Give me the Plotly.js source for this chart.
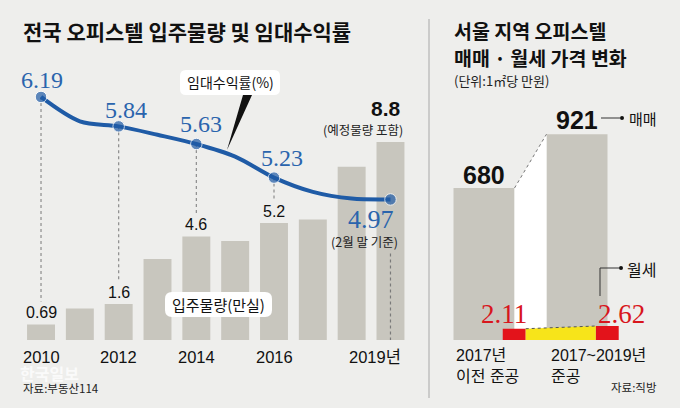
<!DOCTYPE html>
<html><head><meta charset="utf-8">
<script src="https://cdn.plot.ly/plotly-3.0.1.min.js"></script>
<style>html,body{margin:0;padding:0;background:#eeeeec;}</style>
</head><body>
<div id="chart" style="width:680px;height:408px"></div>
<script>
// ---------- data ----------
const years = [2010, 2011, 2012, 2013, 2014, 2015, 2016, 2017, 2018, 2019];
const supply = [0.69, 1.4, 1.6, 3.6, 4.6, 4.4, 5.2, 5.35, 7.7, 8.8];          // 입주물량(만실)
const yieldRate = [6.19, 5.90, 5.84, 5.74, 5.63, 5.48, 5.23, 5.06, 4.98, 4.97]; // 임대수익률(%)
const supplyLabelYears = [2010, 2012, 2014, 2016];
const supplyLabels = ['0.69', '1.6', '4.6', '5.2'];
const rateLabelYears = [2010, 2012, 2014, 2016];
const rateLabels = ['6.19', '5.84', '5.63', '5.23'];
const tickYears = [2010, 2012, 2014, 2016, 2019];
const tickTexts = ['2010', '2012', '2014', '2016', '2019년'];
const seoulCats = ['2017년<br>이전 준공', '2017~2019년<br>준공'];
const salePrice = [680, 921];     // 매매
const monthlyRent = [2.11, 2.62]; // 월세

// ---------- geometry helpers ----------
const W = 680, H = 408;
const PX = x => x / W, PY = y => 1 - y / H;
const plotH = 280;               // pixel height of the plot domain (y 60..340)
const Y1MAX = 12.444;
const Y2R = [3.297, 6.630];
const Y3MAX = 1253, Y4MAX = 52.4;
const y2PerPx = (Y2R[1] - Y2R[0]) / plotH;
const barToY2 = v => Y2R[0] + v / Y1MAX * (Y2R[1] - Y2R[0]);

const KR = '"Noto Sans CJK KR", sans-serif';
const SANS = '"Liberation Sans", "Noto Sans CJK KR", sans-serif';
const SERIF = '"Liberation Serif", "DejaVu Serif", serif';
const BLUE = '#1f5ba6', RED = '#d8161d', BAR = '#c8c6be';

function roundRect(x0, y0, x1, y1, r) {
  const p = (x, y) => PX(x) + ',' + PY(y);
  return 'M' + p(x0 + r, y0) + ' L' + p(x1 - r, y0) + ' Q' + p(x1, y0) + ' ' + p(x1, y0 + r) +
    ' L' + p(x1, y1 - r) + ' Q' + p(x1, y1) + ' ' + p(x1 - r, y1) +
    ' L' + p(x0 + r, y1) + ' Q' + p(x0, y1) + ' ' + p(x0, y1 - r) +
    ' L' + p(x0, y0 + r) + ' Q' + p(x0, y0) + ' ' + p(x0 + r, y0) + ' Z';
}

// ---------- traces ----------
const markerSizes = years.map(y => (rateLabelYears.includes(y) || y === 2019) ? 11.5 : 0);
const bw = 0.656;  // right bar width
const rw = 0.247, roff = 0.325; // red bar width / offset

const traces = [
  { type: 'bar', x: years, y: supply, width: 0.72, marker: { color: BAR }, xaxis: 'x', yaxis: 'y', hoverinfo: 'none' },
  { type: 'scatter', mode: 'lines+markers', x: years, y: yieldRate, xaxis: 'x', yaxis: 'y2',
    line: { color: BLUE, width: 4, shape: 'spline', smoothing: 0.9 },
    marker: { color: BLUE, size: markerSizes }, hoverinfo: 'none' },
  // right panel
  { type: 'scatter', mode: 'none', xaxis: 'x3', yaxis: 'y3', fill: 'toself', fillcolor: '#ffffff',
    x: [bw / 2, 1 - bw / 2, 1 - bw / 2, bw / 2], y: [salePrice[0], salePrice[1], 0, 0], hoverinfo: 'none' },
  { type: 'scatter', mode: 'lines', xaxis: 'x3', yaxis: 'y3',
    x: [bw / 2, 1 - bw / 2], y: salePrice, line: { color: '#777', width: 1, dash: 'dot' }, hoverinfo: 'none' },
  { type: 'bar', x: [0, 1], y: salePrice, width: bw, offset: -bw / 2, marker: { color: BAR }, xaxis: 'x3', yaxis: 'y3', hoverinfo: 'none' },
  { type: 'scatter', mode: 'none', xaxis: 'x3', yaxis: 'y4', fill: 'toself', fillcolor: '#f7e41a',
    x: [roff + rw / 2, 1 + roff - rw / 2, 1 + roff - rw / 2, roff + rw / 2],
    y: [monthlyRent[0], monthlyRent[1], 0, 0], hoverinfo: 'none' },
  { type: 'scatter', mode: 'lines', xaxis: 'x3', yaxis: 'y4',
    x: [roff + rw / 2, 1 + roff - rw / 2], y: monthlyRent, line: { color: '#555', width: 1, dash: 'dot' }, hoverinfo: 'none' },
  { type: 'bar', x: [roff, 1 + roff], y: monthlyRent, width: rw, offset: -rw / 2, marker: { color: '#e3131b' }, xaxis: 'x3', yaxis: 'y4', hoverinfo: 'none' }
];

// ---------- annotations ----------
const ann = [];
const A = o => ann.push(Object.assign({ showarrow: false, xanchor: 'center' }, o));

// titles
A({ xref: 'paper', yref: 'paper', x: PX(21), y: PY(31), xanchor: 'left', yanchor: 'middle',
    text: '<b>전국 오피스텔 입주물량 및 임대수익률</b>', font: { family: KR, size: 21, color: '#111' } });
A({ xref: 'paper', yref: 'paper', x: PX(452), y: PY(31), xanchor: 'left', yanchor: 'middle',
    text: '<b>서울 지역 오피스텔</b>', font: { family: KR, size: 19.5, color: '#111' } });
A({ xref: 'paper', yref: 'paper', x: PX(452), y: PY(58), xanchor: 'left', yanchor: 'middle',
    text: '<b>매매 · 월세 가격 변화</b>', font: { family: KR, size: 19.5, color: '#111' } });
A({ xref: 'paper', yref: 'paper', x: PX(452), y: PY(81), xanchor: 'left', yanchor: 'middle',
    text: '(단위:1㎡당 만원)', font: { family: KR, size: 13, color: '#222' } });

// supply labels
supplyLabelYears.forEach((yr, i) => {
  A({ xref: 'x', yref: 'y', x: yr, y: supply[years.indexOf(yr)], yanchor: 'middle', yshift: 12,
      text: supplyLabels[i], font: { family: SANS, size: 16, color: '#111' } });
});
A({ xref: 'x', yref: 'y', x: 2019, y: supply[9], yanchor: 'middle', yshift: 33, xshift: -4,
    text: '<b>8.8</b>', font: { family: SANS, size: 21, color: '#111' } });
A({ xref: 'x', yref: 'y', x: 2019, y: supply[9], yanchor: 'middle', yshift: 12, xshift: -27,
    text: '(예정물량 포함)', font: { family: KR, size: 12.5, color: '#222' } });

// rate labels
const rateShiftX = [1, 7, 5, 8];
const rateShiftY = [17, 16, 20, 20];
rateLabelYears.forEach((yr, i) => {
  A({ xref: 'x', yref: 'y2', x: yr, y: yieldRate[years.indexOf(yr)], yanchor: 'middle',
      xshift: rateShiftX[i], yshift: rateShiftY[i],
      text: rateLabels[i], font: { family: SERIF, size: 24, color: '#2a64ad' } });
});
A({ xref: 'x', yref: 'y2', x: 2019, y: yieldRate[9], yanchor: 'middle', xshift: -19, yshift: -20,
    text: '4.97', font: { family: SERIF, size: 26, color: '#2a64ad' } });
A({ xref: 'x', yref: 'y2', x: 2019, y: yieldRate[9], yanchor: 'middle', xshift: -26, yshift: -42,
    text: '(2월 말 기준)', font: { family: KR, size: 12.5, color: '#222' } });

// x tick labels (left)
tickYears.forEach((yr, i) => {
  const last = i === tickYears.length - 1;
  A({ xref: 'x', yref: 'paper', x: yr, y: PY(357), yanchor: 'middle',
      xanchor: last ? 'right' : 'center', xshift: last ? 13 : 0,
      text: tickTexts[i], font: { family: SANS, size: 16.5, color: '#111' } });
});

// callout texts
A({ xref: 'paper', yref: 'paper', x: PX(230), y: PY(82.5), yanchor: 'middle',
    text: '임대수익률(%)', font: { family: KR, size: 14, color: '#111' } });
A({ xref: 'paper', yref: 'paper', x: PX(218.5), y: PY(304.5), yanchor: 'middle',
    text: '입주물량(만실)', font: { family: KR, size: 15, color: '#111' } });

// source / watermark
A({ xref: 'paper', yref: 'paper', x: PX(18), y: PY(373), xanchor: 'left', yanchor: 'middle',
    text: '<b>한국일보</b>', font: { family: KR, size: 16, color: 'rgba(255,255,255,0.75)' } });
A({ xref: 'paper', yref: 'paper', x: PX(21), y: PY(388), xanchor: 'left', yanchor: 'middle',
    text: '자료:부동산114', font: { family: KR, size: 11.5, color: '#222' } });
A({ xref: 'paper', yref: 'paper', x: PX(659), y: PY(387), xanchor: 'right', yanchor: 'middle',
    text: '자료:직방', font: { family: KR, size: 11.5, color: '#222' } });

// right panel values
A({ xref: 'x3', yref: 'y3', x: 0, y: salePrice[0], yanchor: 'middle', yshift: 13,
    text: '<b>680</b>', font: { family: SANS, size: 25, color: '#111' } });
A({ xref: 'x3', yref: 'y3', x: 1, y: salePrice[1], yanchor: 'middle', yshift: 14,
    text: '<b>921</b>', font: { family: SANS, size: 25, color: '#111' } });
A({ xref: 'x3', yref: 'y4', x: roff, y: monthlyRent[0], yanchor: 'middle', yshift: 15, xshift: -10,
    text: monthlyRent[0].toFixed(2), font: { family: SERIF, size: 27, color: RED } });
A({ xref: 'x3', yref: 'y4', x: 1 + roff, y: monthlyRent[1], yanchor: 'middle', yshift: 12, xshift: 14,
    text: monthlyRent[1].toFixed(2), font: { family: SERIF, size: 27, color: RED } });
A({ xref: 'paper', yref: 'paper', x: PX(627), y: PY(118), xanchor: 'left', yanchor: 'middle',
    text: '매매', font: { family: KR, size: 15, color: '#111' } });
A({ xref: 'paper', yref: 'paper', x: PX(625), y: PY(269), xanchor: 'left', yanchor: 'middle',
    text: '월세', font: { family: KR, size: 16, color: '#111' } });
// right x labels
const catX = [454, 549];
seoulCats.forEach((t, i) => {
  A({ xref: 'paper', yref: 'paper', x: PX(catX[i]), y: PY(365.5), xanchor: 'left', yanchor: 'middle', align: 'left',
      text: t, font: { family: SANS, size: 16, color: '#111' } });
});

// ---------- shapes ----------
const shapes = [];
// dotted guides from rate markers down to supply labels
rateLabelYears.forEach(yr => {
  const i = years.indexOf(yr);
  shapes.push({ type: 'line', xref: 'x', yref: 'y2', layer: 'below', x0: yr, x1: yr,
    y0: yieldRate[i], y1: barToY2(supply[i]) + 23 * y2PerPx, line: { color: '#8c8c8c', width: 1.2, dash: 'dot' } });
});
shapes.push({ type: 'line', xref: 'x', yref: 'y2', x0: 2019, x1: 2019,
  y0: yieldRate[9] - 54 * y2PerPx, y1: Y2R[0], line: { color: '#7a7a7a', width: 1.2, dash: 'dot' } });
// callout boxes
shapes.push({ type: 'path', xref: 'paper', yref: 'paper', path: roundRect(180, 70, 280, 95, 6), fillcolor: '#ffffff', line: { width: 0 } });
shapes.push({ type: 'path', xref: 'paper', yref: 'paper',
  path: 'M' + PX(243) + ',' + PY(95) + ' L' + PX(252) + ',' + PY(95) + ' L' + PX(227) + ',' + PY(150) + ' Z',
  fillcolor: '#111', line: { width: 0 } });
shapes.push({ type: 'path', xref: 'paper', yref: 'paper', path: roundRect(165, 292, 272, 317, 7), fillcolor: '#ffffff', line: { width: 0 } });
// divider
shapes.push({ type: 'line', xref: 'paper', yref: 'paper', x0: PX(429), x1: PX(429), y0: PY(19), y1: PY(398), line: { color: '#a8a8a8', width: 1 } });
// 매매 pointer
shapes.push({ type: 'line', xref: 'paper', yref: 'paper', x0: PX(601), x1: PX(620), y0: PY(118), y1: PY(118), line: { color: '#333', width: 1 } });
shapes.push({ type: 'circle', xref: 'paper', yref: 'paper', x0: PX(620), x1: PX(624), y0: PY(116), y1: PY(120), fillcolor: '#111', line: { width: 0 } });
// 월세 pointer
shapes.push({ type: 'path', xref: 'paper', yref: 'paper',
  path: 'M' + PX(600) + ',' + PY(296) + ' L' + PX(600) + ',' + PY(268) + ' L' + PX(619) + ',' + PY(268),
  line: { color: '#333', width: 1 } });
shapes.push({ type: 'circle', xref: 'paper', yref: 'paper', x0: PX(619), x1: PX(623), y0: PY(266), y1: PY(270), fillcolor: '#111', line: { width: 0 } });

const hidden = { visible: false, showgrid: false, zeroline: false, fixedrange: true };
const layout = {
  width: W, height: H, margin: { l: 0, r: 0, t: 0, b: 0 },
  paper_bgcolor: '#eeeeec', plot_bgcolor: 'rgba(0,0,0,0)',
  showlegend: false, barmode: 'overlay',
  xaxis: Object.assign({ domain: [PX(21.6), PX(409.9)], range: [2009.5, 2019.5], anchor: 'y' }, hidden),
  yaxis: Object.assign({ domain: [PY(340), PY(60)], range: [0, Y1MAX], anchor: 'x' }, hidden),
  yaxis2: Object.assign({ overlaying: 'y', anchor: 'x', range: Y2R }, hidden),
  xaxis3: Object.assign({ domain: [PX(437.5), PX(623.5)], range: [-0.5, 1.5], anchor: 'y3' }, hidden),
  yaxis3: Object.assign({ domain: [PY(340), PY(60)], range: [0, Y3MAX], anchor: 'x3' }, hidden),
  yaxis4: Object.assign({ overlaying: 'y3', anchor: 'x3', range: [0, Y4MAX] }, hidden),
  annotations: ann, shapes: shapes
};
Plotly.newPlot('chart', traces, layout, { staticPlot: true, displayModeBar: false });
</script>
</body></html>
